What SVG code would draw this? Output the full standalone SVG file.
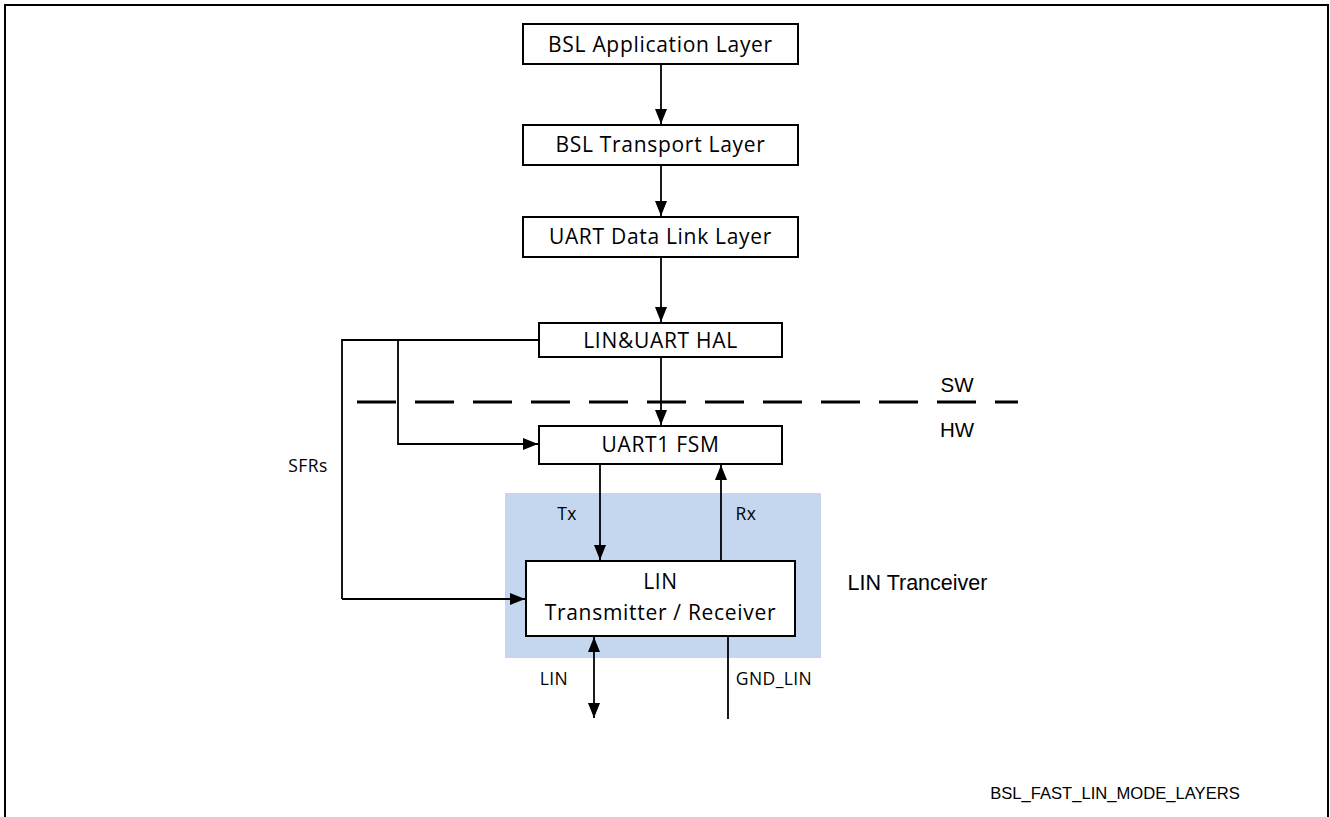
<svg xmlns="http://www.w3.org/2000/svg" width="1330" height="817" viewBox="0 0 1330 817">
  <style>
    .box { fill: #ffffff; stroke: #000000; stroke-width: 2; }
    .lbl { font-family: "Open Sans", "Noto Sans", sans-serif; font-size: 21px; letter-spacing: 0.7px; fill: #000000; text-anchor: middle; }
    .small { font-family: "Open Sans", "Noto Sans", sans-serif; font-size: 17.5px; letter-spacing: 0.4px; fill: #000000; text-anchor: middle; }
    .arial { font-family: "Liberation Sans", Arial, sans-serif; fill: #000000; text-anchor: middle; }
    .wire { fill: none; stroke: #000000; stroke-width: 1.8; }
    .arrow { fill: none; stroke: #000000; stroke-width: 1.8; marker-end: url(#head); }
  </style>
  <defs>
    <marker id="head" viewBox="0 0 15 13" refX="15" refY="6.5" markerWidth="15" markerHeight="13" markerUnits="userSpaceOnUse" orient="auto">
      <path d="M0,0.5 L15,6.5 L0,12.5 Z" fill="#000000"/>
    </marker>
    <marker id="tail" viewBox="0 0 15 13" refX="0" refY="6.5" markerWidth="15" markerHeight="13" markerUnits="userSpaceOnUse" orient="auto">
      <path d="M15,0.5 L0,6.5 L15,12.5 Z" fill="#000000"/>
    </marker>
  </defs>

  <!-- frame -->
  <rect x="5" y="5" width="1323" height="820" fill="#ffffff" stroke="#000000" stroke-width="2"/>

  <!-- transceiver area -->
  <g id="lin-tranceiver">
    <rect x="505" y="493" width="316" height="165" fill="#c5d7ee"/>
    <text class="arial" x="917.5" y="590" font-size="21.5">LIN Tranceiver</text>
  </g>

  <!-- SW / HW boundary -->
  <g id="sw-hw-boundary">
    <line x1="357" y1="402" x2="1018" y2="402" stroke="#000000" stroke-width="3.2" stroke-dasharray="39 19"/>
    <text class="arial" x="957" y="392" font-size="20.5">SW</text>
    <text class="arial" x="957" y="437" font-size="20.5">HW</text>
  </g>

  <!-- connectors -->
  <g id="connectors">
    <line class="arrow" x1="661" y1="64" x2="661" y2="124"/>
    <line class="arrow" x1="661" y1="165" x2="661" y2="216"/>
    <line class="arrow" x1="661" y1="257" x2="661" y2="322"/>
    <line class="arrow" x1="661" y1="357" x2="661" y2="425"/>
    <polyline class="wire" points="539,340 342,340 342,599"/>
    <polyline class="arrow" points="342,599 525,599"/>
    <polyline class="arrow" points="398,340 398,444 538,444"/>
    <line class="arrow" x1="600" y1="464" x2="600" y2="560"/>
    <line class="arrow" x1="721" y1="561" x2="721" y2="465"/>
    <line class="wire" x1="594" y1="637" x2="594" y2="718" marker-start="url(#tail)" marker-end="url(#head)"/>
    <line class="wire" x1="728" y1="636" x2="728" y2="719"/>
    <text class="small" x="308" y="472">SFRs</text>
    <text class="small" x="567" y="520">Tx</text>
    <text class="small" x="746" y="520">Rx</text>
    <text class="small" x="554" y="685">LIN</text>
    <text class="small" x="774" y="685">GND_LIN</text>
  </g>

  <g id="bsl-application-layer">
    <rect class="box" x="523" y="24" width="275" height="40"/>
    <text class="lbl" x="660.5" y="52">BSL Application Layer</text>
  </g>
  <g id="bsl-transport-layer">
    <rect class="box" x="523" y="125" width="275" height="40"/>
    <text class="lbl" x="660.5" y="152">BSL Transport Layer</text>
  </g>
  <g id="uart-data-link-layer">
    <rect class="box" x="523" y="217" width="275" height="40"/>
    <text class="lbl" x="660.5" y="244">UART Data Link Layer</text>
  </g>
  <g id="lin-uart-hal">
    <rect class="box" x="539" y="323" width="243" height="34"/>
    <text class="lbl" x="660.5" y="348">LIN&amp;UART HAL</text>
  </g>
  <g id="uart1-fsm">
    <rect class="box" x="539" y="426" width="243" height="38"/>
    <text class="lbl" x="660.5" y="452">UART1 FSM</text>
  </g>
  <g id="lin-transmitter-receiver">
    <rect class="box" x="526" y="561" width="269" height="75"/>
    <text class="lbl" x="660.5" y="589">LIN</text>
    <text class="lbl" x="660.5" y="620">Transmitter / Receiver</text>
  </g>

  <text class="arial" x="1115" y="799" font-size="16.6">BSL_FAST_LIN_MODE_LAYERS</text>
</svg>
